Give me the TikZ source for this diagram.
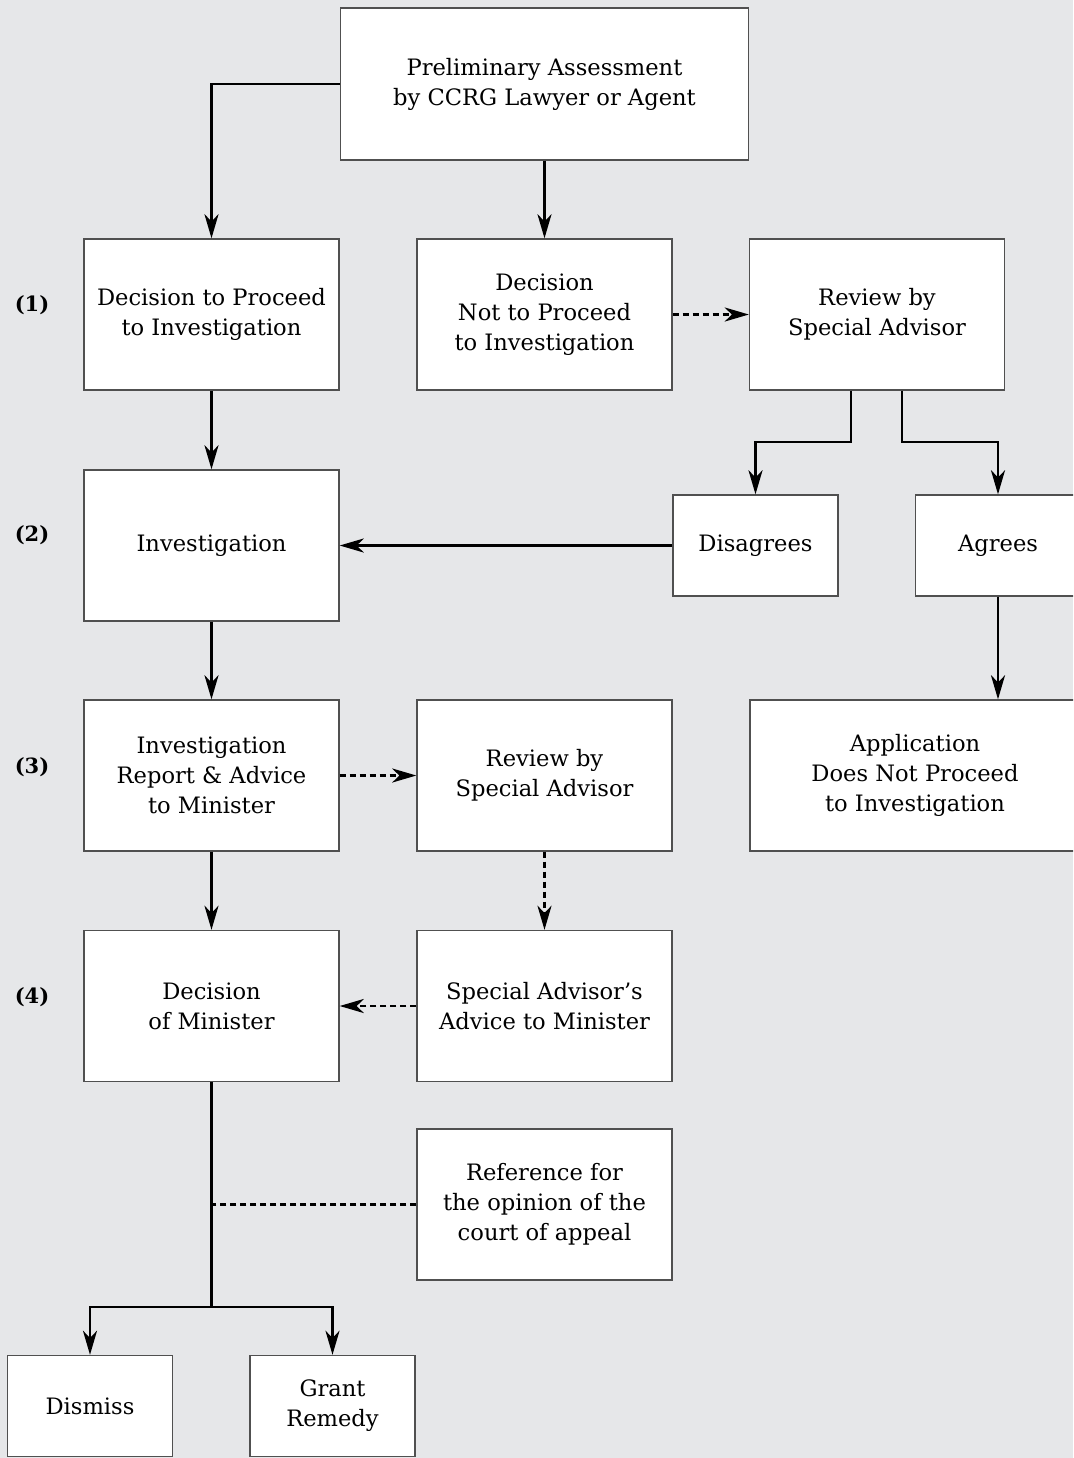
\documentclass[tikz,border=0pt]{standalone}
\usepackage{fontspec}
\setmainfont{DejaVu Serif}
\usepackage{tikz}
\usetikzlibrary{arrows.meta}

\definecolor{bgray}{HTML}{E6E7E9}
\definecolor{edgegray}{HTML}{505050}

\begin{document}
\begin{tikzpicture}[x=0.5pt,y=-0.5pt,
  box/.style={draw=edgegray,line width=0.7pt,fill=white,align=center,
    minimum width=127.5pt,minimum height=75.5pt,inner sep=0pt,
    font=\fontsize{11.3}{15}\selectfont},
  small/.style={box,minimum width=82.5pt,minimum height=50.5pt},
  stage/.style={font=\fontsize{10.5}{12}\selectfont\bfseries},
  link/.style={line width=1.2pt,-{Stealth[length=12pt,width=7pt,inset=3.5pt]}},
  dlink/.style={link,dash pattern=on 3pt off 2pt}]
\fill[bgray] (0,0) rectangle (1073,1458);
\clip (0,0) rectangle (1073,1458);

% stage numbers
\node[stage] (s1) at (32,305) {(1)};
\node[stage] (s2) at (32,535) {(2)};
\node[stage] (s3) at (32,767) {(3)};
\node[stage] (s4) at (32,997) {(4)};

% boxes
\node[box,minimum width=204pt,minimum height=76pt] (Prelim) at (544.5,84) {Preliminary Assessment\\by CCRG Lawyer or Agent};
\node[box] (Proceed) at (211.5,314.5) {Decision to Proceed\\to Investigation};
\node[box] (NotProceed) at (544.5,314.5) {Decision\\Not to Proceed\\to Investigation};
\node[box] (ReviewA) at (877,314.5) {Review by\\Special Advisor};
\node[box] (Invest) at (211.5,545.5) {Investigation};
\node[small] (Disagrees) at (755.5,545.5) {Disagrees};
\node[small] (Agrees) at (998,545.5) {Agrees};
\node[box] (Report) at (211.5,775.5) {Investigation\\Report \& Advice\\to Minister};
\node[box] (ReviewB) at (544.5,775.5) {Review by\\Special Advisor};
\node[box,minimum width=165pt] (Application) at (915,775.5) {Application\\Does Not Proceed\\to Investigation};
\node[box] (Decision) at (211.5,1006) {Decision\\of Minister};
\node[box] (Advice) at (544.5,1006) {Special Advisor's\\Advice to Minister};
\node[box] (Reference) at (544.5,1204.5) {Reference for\\the opinion of the\\court of appeal};
\node[small] (Dismiss) at (90,1406) {Dismiss};
\node[small] (Grant) at (332.5,1406) {Grant\\Remedy};
\coordinate (fork) at (211.5,1307);

% connectors
\draw[link] (Prelim.west) -| (Proceed.north);
\draw[link] (Prelim.south) -- (NotProceed.north);
\draw[dlink] (NotProceed.east) -- (ReviewA.west);
\draw[link] ([xshift=-13pt]ReviewA.south) -- ++(0,51) -| (Disagrees.north);
\draw[link] ([xshift=12.5pt]ReviewA.south) -- ++(0,51) -| (Agrees.north);
\draw[link] (Proceed.south) -- (Invest.north);
\draw[link] (Disagrees.west) -- (Invest.east);
\draw[link] (Agrees.south) -- (Agrees.south |- Application.north);
\draw[link] (Invest.south) -- (Report.north);
\draw[dlink] (Report.east) -- (ReviewB.west);
\draw[dlink] (ReviewB.south) -- (Advice.north);
\draw[link] (Report.south) -- (Decision.north);
\draw[dlink] (Advice.west) -- (Decision.east);
\draw[line width=1.2pt] (Decision.south) -- (fork);
\draw[link] (fork) -| (Dismiss.north);
\draw[link] (fork) -| (Grant.north);
\draw[line width=1.2pt,dash pattern=on 3pt off 2pt] (Reference.west) -- (Reference.west -| fork);
\end{tikzpicture}
\end{document}
